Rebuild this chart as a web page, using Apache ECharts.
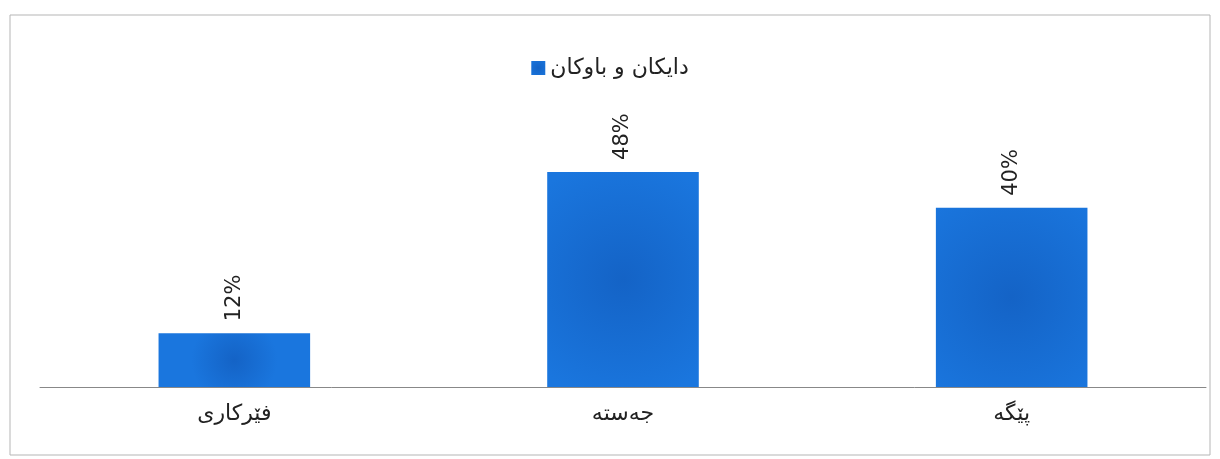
<!DOCTYPE html>
<html>
<head>
<meta charset="utf-8">
<script src="https://cdn.jsdelivr.net/npm/echarts@6/dist/echarts.min.js"></script>
<style>
  html, body { margin: 0; padding: 0; background: #fff; }
</style>
</head>
<body>
<div id="main" style="width: 1220px; height: 459px"></div>
<script>
const categories = ['فێرکاری', 'جەستە', 'پێگە']
const parents = [12, 48, 40]
const seriesName = 'دایکان و باوکان'

const chart = echarts.init(document.getElementById('main'))
const option = {
  backgroundColor: '#fff',
  textStyle: { fontFamily: 'DejaVu Sans' },
  graphic: [
    {
      type: 'rect',
      shape: { x: 10, y: 15, width: 1200, height: 440 },
      style: { fill: 'none', stroke: '#b5b5b5', lineWidth: 1 },
      silent: true
    }
  ],
  legend: {
    top: 52,
    left: 'center',
    icon: 'rect',
    itemWidth: 14,
    itemHeight: 14,
    itemGap: 6,
    textStyle: { fontSize: 22, color: '#222', fontFamily: 'DejaVu Sans' },
    data: [seriesName]
  },
  grid: { left: 40, right: 14, top: 163, bottom: 72 },
  xAxis: {
    type: 'category',
    data: categories,
    axisTick: { show: false },
    axisLine: { lineStyle: { color: '#888', width: 1 } },
    axisLabel: { color: '#222', fontSize: 22, margin: 16, fontFamily: 'DejaVu Sans' }
  },
  yAxis: {
    type: 'value',
    min: 0,
    max: 50,
    show: false,
    splitLine: { show: false }
  },
  series: [
    {
      name: seriesName,
      type: 'bar',
      data: parents,
      barWidth: '39%',
      itemStyle: {
        color: new echarts.graphic.RadialGradient(0.5, 0.5, 0.8, [
          { offset: 0, color: '#1463c6' },
          { offset: 1, color: '#1a76de' }
        ])
      },
      label: {
        show: true,
        position: 'top',
        rotate: 90,
        align: 'left',
        verticalAlign: 'middle',
        distance: 12,
        fontSize: 21,
        color: '#222',
        formatter: '{c}%'
      }
    }
  ]
}
chart.setOption(option)
</script>
</body>
</html>
